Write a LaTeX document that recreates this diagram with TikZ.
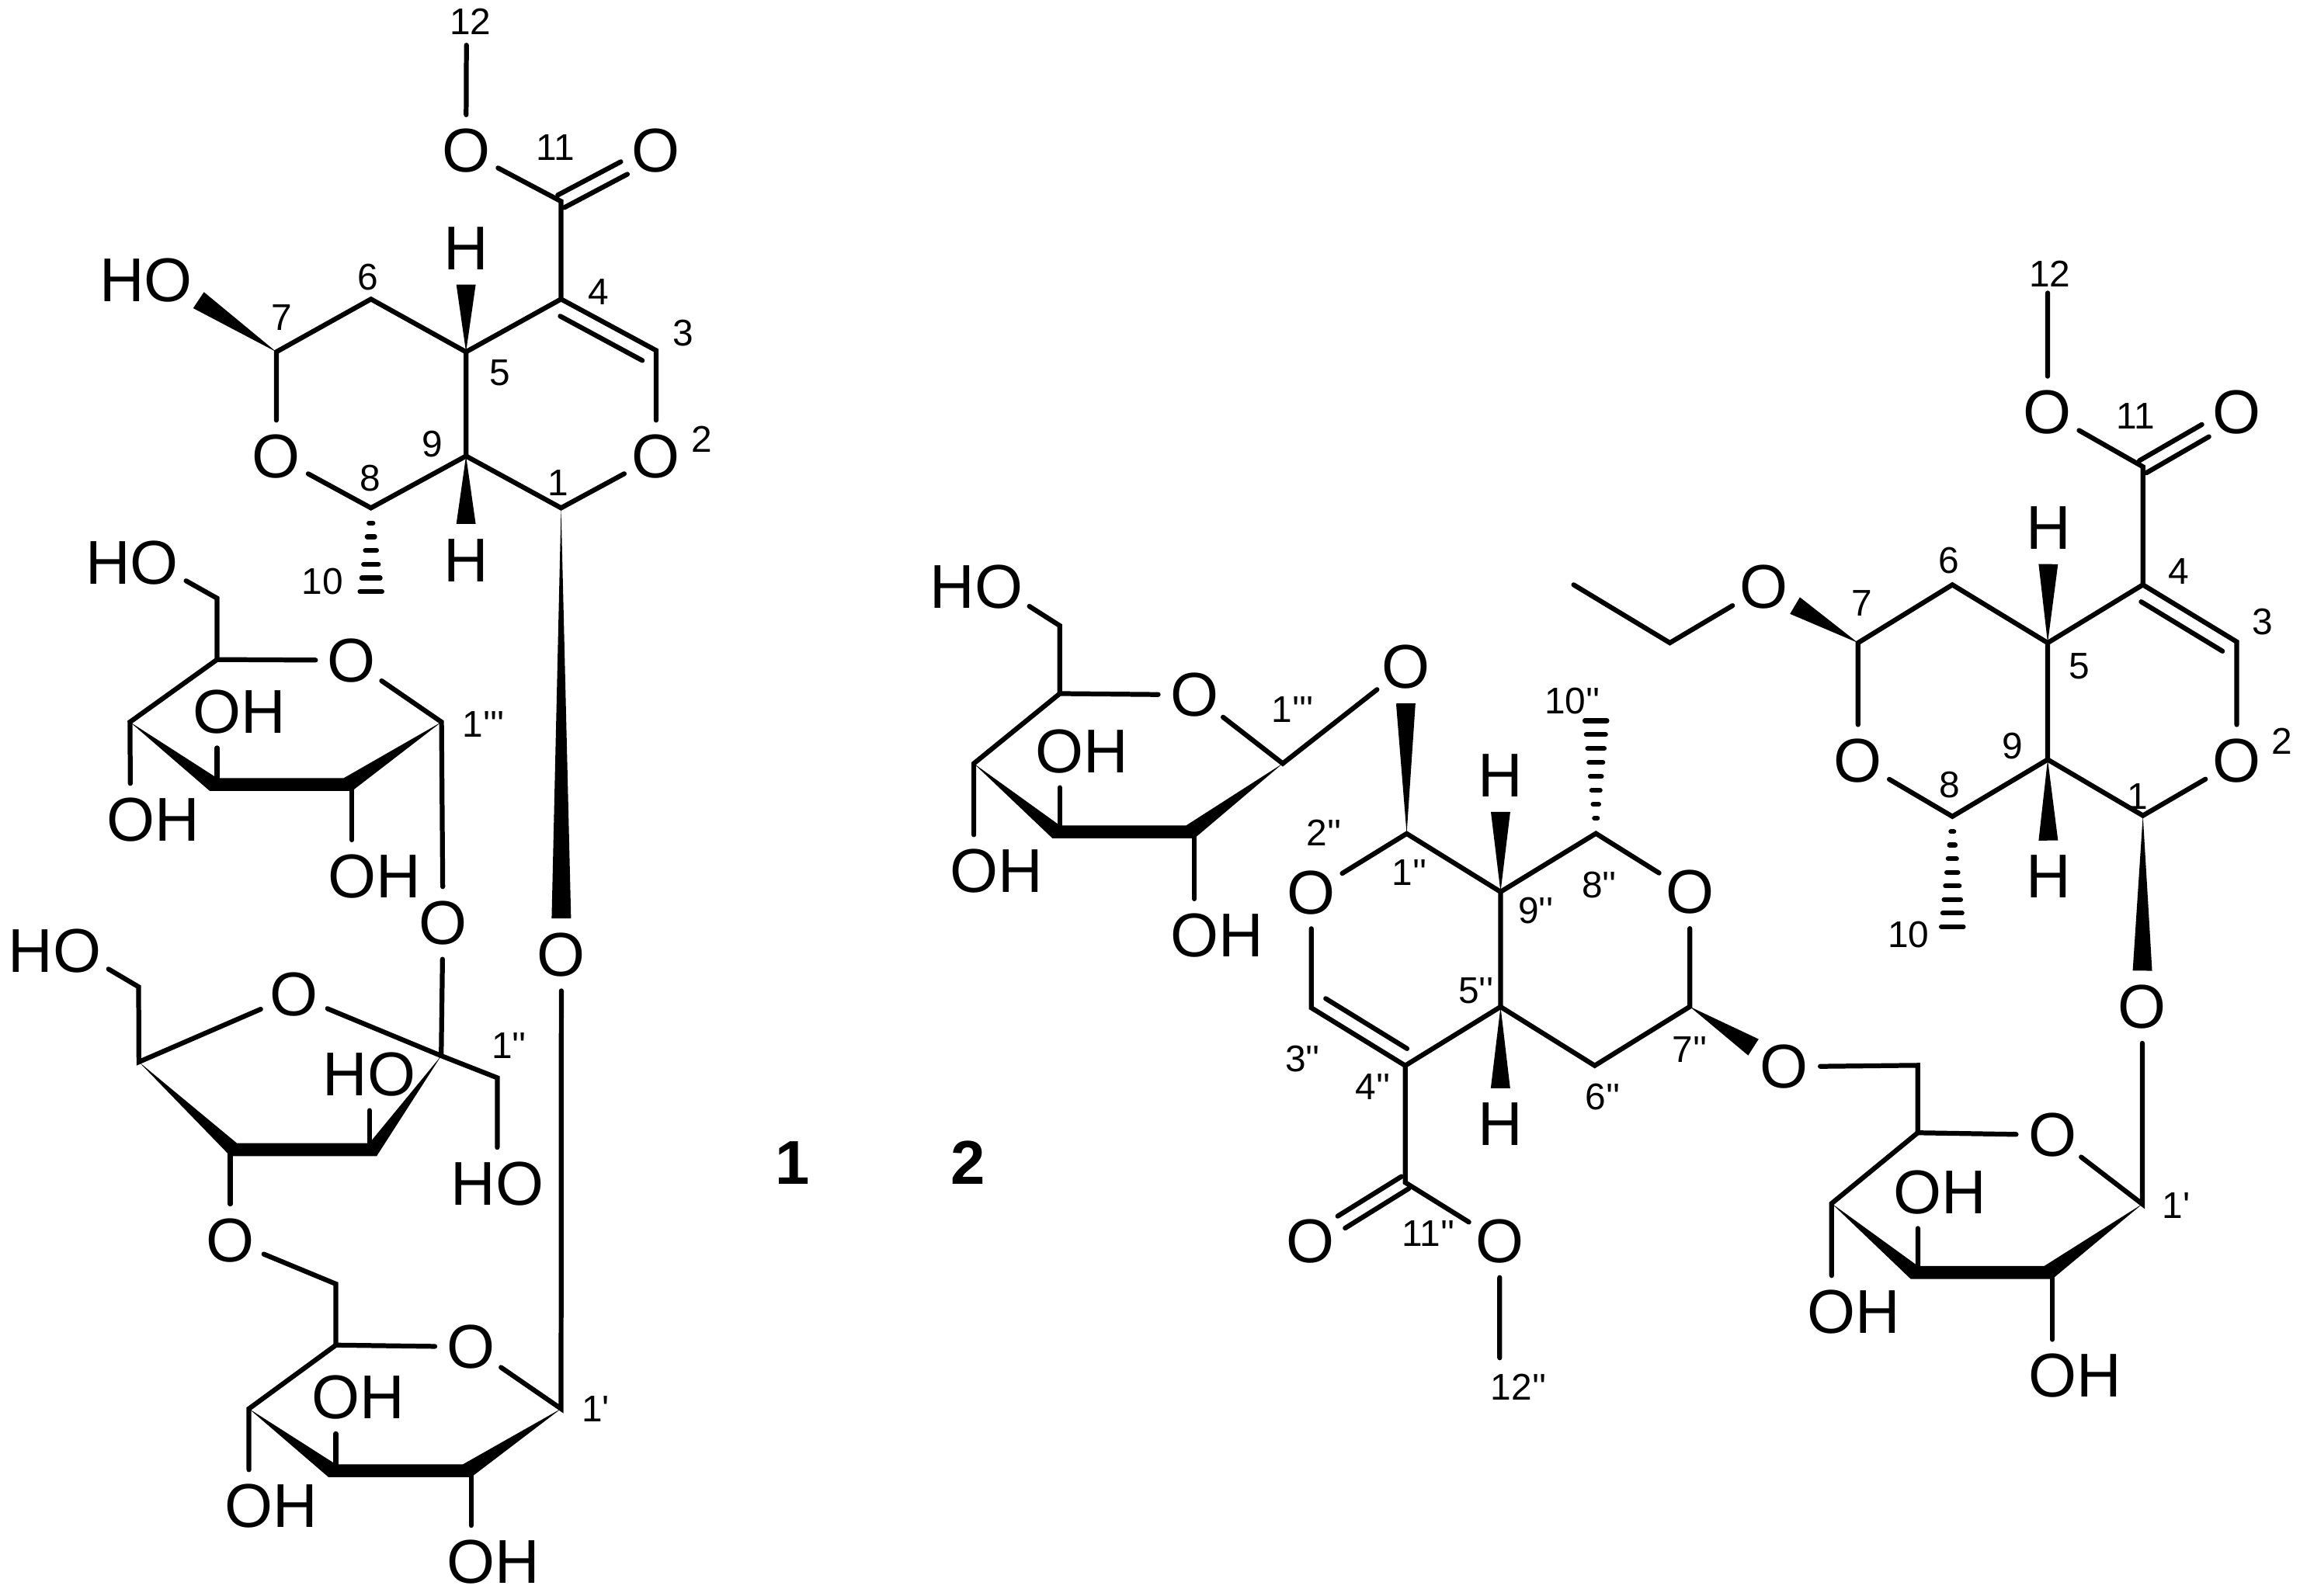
\documentclass[tikz,border=0pt]{standalone}
\usepackage{fontspec}
\newfontfamily\chemfont{Liberation Sans}
\usetikzlibrary{calc}

\newcommand{\wedgebond}[2]{
  \path (#1) -- (#2) coordinate[pos=1] (wtip);
  \fill (#1) -- ($(wtip)!0.66mm!90:(#1)$) -- ($(wtip)!0.66mm!-90:(#1)$) -- cycle;
}
\newcommand{\hashbond}[3]{
  \foreach \i in {0,...,#3}{
    \pgfmathsetmacro\f{1-\i/(#3+1.1)}
    \pgfmathsetmacro\w{0.75*\f}
    \coordinate (hp) at ($(#1)!\f!(#2)$);
    \draw[bond] ($(hp)!\w mm!90:(#1)$) -- ($(hp)!\w mm!-90:(#1)$);
  }
}
\newcommand{\carbonyl}[2]{
  \path (#1) -- (#2) coordinate[pos=1] (wtip);
  \draw[bond] ($(#1)!0.48mm!90:(wtip)$) -- ($(wtip)!0.48mm!-90:(#1)$);
  \draw[bond] ($(#1)!0.48mm!-90:(wtip)$) -- ($(wtip)!0.48mm!90:(#1)$);
}
\newcommand{\innerdouble}[3]{
  \draw[bond, shorten >=0.5mm, shorten <=0.5mm] ($(#1)!1.05mm!#3:(#2)$) -- ($(#2)!1.05mm!-#3:(#1)$);
}
\newcommand{\frontbond}[4]{
  \fill (#1) -- ($(#2)+(0,-4.4)$) -- ($(#3)+(-5.6,-4.4)$) -- (#4) -- ($(#3)+(0,4.4)$) -- ($(#2)+(-5,4.4)$) -- cycle;
}

\begin{document}
\begin{tikzpicture}[x=0.01cm, y=-0.01cm, bond/.style = {line width=0.33mm, line cap=round},
    atom/.style = {circle, inner sep=0pt, minimum size=0.48cm, font=\chemfont\fontsize{12}{14}\selectfont},
    numlabel/.style = {inner sep=0pt, font=\chemfont\fontsize{7.2}{9}\selectfont},
    cpdlabel/.style = {inner sep=0pt, font=\chemfont\fontsize{12}{14}\selectfont\bfseries}]

    \useasboundingbox (0,0) rectangle (1568,1088.4);

    % compound 1, aglycone
    \coordinate (ac12) at (318,30.8); \coordinate (ac11) at (382.5,137.3); \coordinate (ac4) at (382.5,204);
    \coordinate (ac3) at (447.3,239); \coordinate (ac1) at (382.5,346.4); \coordinate (ac9) at (317.7,311);
    \coordinate (ac5) at (317.7,240); \coordinate (ac6) at (252.9,204); \coordinate (ac7) at (188.4,240);
    \coordinate (ac8) at (252.9,346.4); \coordinate (ac10) at (252.9,403.5);
    \node[atom] (aoe) at (317.7,103) {O};
    \node[atom] (aok) at (447.3,103) {O};
    \node[atom] (ao2) at (447.3,311.3) {O};
    \node[atom] (ao7) at (188.4,311.3) {O};
    \node[atom] (aoh7) at (114.8,191) {\llap{H}O};
    \node[atom] (ah5) at (317.7,169.4) {H};
    \node[atom] (ah9) at (317.7,382) {H};
    \draw[bond] (ac12) -- (aoe) -- (ac11) -- (ac4) -- (ac5) -- (ac9) -- (ac1) -- (ao2) -- (ac3) -- (ac4);
    \draw[bond] (ac5) -- (ac6) -- (ac7) -- (ao7) -- (ac8) -- (ac9);
    \carbonyl{ac11}{aok}
    \innerdouble{ac4}{ac3}{-90}
    \wedgebond{ac7}{aoh7}
    \wedgebond{ac5}{ah5}
    \wedgebond{ac9}{ah9}
    \hashbond{ac8}{ac10}{5}

    % compound 1, outer pyranose
    \coordinate (dc6) at (148,408); \coordinate (dc5) at (148,449.8); \coordinate (dc4) at (88.6,492.4);
    \coordinate (dc3) at (148,535); \coordinate (dc2) at (240,535); \coordinate (dc1) at (301,492.4);
    \node[atom] (dor) at (239.8,450.3) {O};
    \node[atom] (dho6) at (105.3,384) {\llap{H}O};
    \node[atom] (doh3) at (148,485.3) {O\rlap{H}};
    \node[atom] (doh4) at (89,559) {O\rlap{H}};
    \node[atom] (doh2) at (240,597.5) {O\rlap{H}};
    \node[atom] (dol) at (302,629.4) {O};
    \draw[bond] (dho6) -- (dc6) -- (dc5) -- (dor) -- (dc1) -- (dol);
    \draw[bond] (dc5) -- (dc4) -- (doh4);
    \draw[bond] (dc3) -- (doh3);
    \draw[bond] (dc2) -- (doh2);
    \frontbond{dc4}{dc3}{dc2}{dc1}

    % compound 1, furanose
    \coordinate (fc6) at (94.5,673); \coordinate (fc5) at (94.7,724.2); \coordinate (fc4) at (157,784);
    \coordinate (fc3) at (251.8,784); \coordinate (fc2) at (300.8,720); \coordinate (fc1) at (339,735);
    \node[atom] (for) at (200.4,678.4) {O};
    \node[atom] (fho6) at (52.7,648.3) {\llap{H}O};
    \node[atom] (fho3) at (251.8,732.6) {\makebox[0pt]{HO}};
    \node[atom] (fho1) at (339,807.2) {\makebox[0pt]{HO}};
    \node[atom] (fol) at (157,845.8) {O};
    \draw[bond] (dol) -- (fc2) -- (fc1) -- (fho1);
    \draw[bond] (fho6) -- (fc6) -- (fc5) -- (for) -- (fc2);
    \draw[bond] (fc3) -- (fho3);
    \draw[bond] (fc4) -- (fol);
    \fill (fc5) -- ($(fc4)+(4.5,-4.4)$) -- ($(fc3)+(0,-4.4)$) -- (fc2) -- ($(fc3)+(5,4.4)$) -- ($(fc4)+(0,4.4)$) -- cycle;

    % compound 1, inner pyranose
    \coordinate (gc6) at (229,875.6); \coordinate (gc5) at (229,917.3); \coordinate (gc4) at (169.7,960.7);
    \coordinate (gc3) at (229,1003); \coordinate (gc2) at (321.2,1003); \coordinate (gc1) at (382.5,960.7);
    \node[atom] (gor) at (321.2,918.5) {O};
    \node[atom] (goh3) at (229,953) {O\rlap{H}};
    \node[atom] (goh4) at (169.7,1027) {O\rlap{H}};
    \node[atom] (goh2) at (321.2,1065) {O\rlap{H}};
    \node[atom] (gog) at (382.7,651) {O};
    \draw[bond] (fol) -- (gc6) -- (gc5) -- (gor) -- (gc1) -- (gog);
    \draw[bond] (gc5) -- (gc4) -- (goh4);
    \draw[bond] (gc3) -- (goh3);
    \draw[bond] (gc2) -- (goh2);
    \frontbond{gc4}{gc3}{gc2}{gc1}
    \wedgebond{ac1}{gog}

    % compound 1, numbering
    \node[numlabel] (al12) at (320.7,14.9) {12};
    \node[numlabel] (al11) at (378.8,100.8) {11};
    \node[numlabel] (al4) at (407.8,198.9) {4};
    \node[numlabel] (al3) at (466,227) {3};
    \node[numlabel] (al5) at (341,254) {5};
    \node[numlabel] (al6) at (251,189) {6};
    \node[numlabel] (al7) at (191.8,216.3) {7};
    \node[numlabel] (al9) at (294.7,302.8) {9};
    \node[numlabel] (al8) at (252.2,325.9) {8};
    \node[numlabel] (al1) at (380.5,329.2) {1};
    \node[numlabel] (al2) at (478.7,299.5) {2};
    \node[numlabel] (al10) at (220,396.6) {10};
    \node[numlabel] (dl1) at (329.5,494) {1'''};
    \node[numlabel] (fl1) at (347,713) {1''};
    \node[numlabel] (gl1) at (406,961) {1'};
    \node[cpdlabel] (cpd1) at (540.3,793) {1};
    \node[cpdlabel] (cpd2) at (660,793) {2};

    % compound 2, right aglycone
    \coordinate (bc12) at (1396,199.8); \coordinate (bc11) at (1460.9,318.3); \coordinate (bc4) at (1460.9,398.8);
    \coordinate (bc3) at (1524.9,437.7); \coordinate (bc1) at (1460.9,556.2); \coordinate (bc9) at (1396,518);
    \coordinate (bc5) at (1396,438.4); \coordinate (bc6) at (1331,398.8); \coordinate (bc7) at (1266.7,438.4);
    \coordinate (bc8) at (1331,556.8); \coordinate (bc10) at (1331,632);
    \coordinate (bet1) at (1138.4,438.4); \coordinate (bet2) at (1072.8,398.8);
    \node[atom] (boe) at (1395.9,281.3) {O};
    \node[atom] (bok) at (1524.9,281.3) {O};
    \node[atom] (bo2) at (1524.9,518.9) {O};
    \node[atom] (bo7) at (1266.7,518.9) {O};
    \node[atom] (boet) at (1202.4,400.4) {O};
    \node[atom] (bh5) at (1396.6,360) {H};
    \node[atom] (bh9) at (1396.6,597.9) {H};
    \draw[bond] (bc12) -- (boe) -- (bc11) -- (bc4) -- (bc5) -- (bc9) -- (bc1) -- (bo2) -- (bc3) -- (bc4);
    \draw[bond] (bc5) -- (bc6) -- (bc7) -- (bo7) -- (bc8) -- (bc9);
    \draw[bond] (bet2) -- (bet1) -- (boet);
    \carbonyl{bc11}{bok}
    \innerdouble{bc4}{bc3}{-90}
    \wedgebond{bc7}{boet}
    \wedgebond{bc5}{bh5}
    \wedgebond{bc9}{bh9}
    \hashbond{bc8}{bc10}{7}

    % compound 2, right pyranose
    \coordinate (pc6) at (1307.4,726.5); \coordinate (pc5) at (1307.4,772.5); \coordinate (pc4) at (1248.7,820.7);
    \coordinate (pc3) at (1307.6,867.8); \coordinate (pc2) at (1399.2,867.8); \coordinate (pc1) at (1460.5,821.1);
    \node[atom] (por) at (1399.2,774) {O};
    \node[atom] (pog) at (1460.5,686.7) {O};
    \node[atom] (pol) at (1216.2,727.5) {O};
    \node[atom] (poh3) at (1307.4,813) {O\rlap{H}};
    \node[atom] (poh4) at (1248.7,894.6) {O\rlap{H}};
    \node[atom] (poh2) at (1399.2,938.2) {O\rlap{H}};
    \draw[bond] (pol) -- (pc6) -- (pc5) -- (por) -- (pc1) -- (pog);
    \draw[bond] (pc5) -- (pc4) -- (poh4);
    \draw[bond] (pc3) -- (poh3);
    \draw[bond] (pc2) -- (poh2);
    \frontbond{pc4}{pc3}{pc2}{pc1}
    \wedgebond{bc1}{pog}

    % compound 2, left aglycone
    \coordinate (cc1) at (959,568.5); \coordinate (cc3) at (894,687.3); \coordinate (cc4) at (958,726.7);
    \coordinate (cc5) at (1023,686.6); \coordinate (cc6) at (1087.2,726.7); \coordinate (cc7) at (1152,686.5);
    \coordinate (cc8) at (1088,568.4); \coordinate (cc9) at (1023,608.2); \coordinate (cc10) at (1088,491.5);
    \coordinate (cc11) at (958,806.4); \coordinate (cc12) at (1022.4,926);
    \node[atom] (co2) at (894,608.6) {O};
    \node[atom] (co7) at (1152,608.5) {O};
    \node[atom] (cok) at (893.5,846.5) {O};
    \node[atom] (coe) at (1022.4,846.5) {O};
    \node[atom] (ch9) at (1023,529) {H};
    \node[atom] (ch5) at (1022.9,766.8) {H};
    \draw[bond] (cc12) -- (coe) -- (cc11) -- (cc4) -- (cc5) -- (cc9) -- (cc1) -- (co2) -- (cc3) -- (cc4);
    \draw[bond] (cc5) -- (cc6) -- (cc7) -- (co7) -- (cc8) -- (cc9);
    \carbonyl{cc11}{cok}
    \innerdouble{cc3}{cc4}{90}
    \wedgebond{cc7}{pol}
    \wedgebond{cc9}{ch9}
    \wedgebond{cc5}{ch5}
    \hashbond{cc8}{cc10}{7}

    % compound 2, left pyranose
    \coordinate (qc6) at (722.5,426.7); \coordinate (qc5) at (722.5,473); \coordinate (qc4) at (663.9,520.7);
    \coordinate (qc3) at (722.5,567.3); \coordinate (qc2) at (814.3,567.3); \coordinate (qc1) at (874.5,520.7);
    \node[atom] (qor) at (814.3,473.9) {O};
    \node[atom] (qog) at (958.2,455) {O};
    \node[atom] (qho6) at (680.9,400.2) {\llap{H}O};
    \node[atom] (qoh3) at (722.5,512.4) {O\rlap{H}};
    \node[atom] (qoh4) at (663.9,594) {O\rlap{H}};
    \node[atom] (qoh2) at (814.3,637.7) {O\rlap{H}};
    \draw[bond] (qho6) -- (qc6) -- (qc5) -- (qor) -- (qc1) -- (qog);
    \draw[bond] (qc5) -- (qc4) -- (qoh4);
    \draw[bond] (qc3) -- (qoh3);
    \draw[bond] (qc2) -- (qoh2);
    \frontbond{qc4}{qc3}{qc2}{qc1}
    \wedgebond{cc1}{qog}

    % compound 2, numbering
    \node[numlabel] (bl12) at (1397.5,187) {12};
    \node[numlabel] (bl11) at (1455.7,284) {11};
    \node[numlabel] (bl4) at (1485.2,389.7) {4};
    \node[numlabel] (bl3) at (1542.7,423.8) {3};
    \node[numlabel] (bl5) at (1417.7,454.2) {5};
    \node[numlabel] (bl6) at (1328.4,382) {6};
    \node[numlabel] (bl7) at (1269.3,411.6) {7};
    \node[numlabel] (bl9) at (1372.2,508.8) {9};
    \node[numlabel] (bl8) at (1329.3,535) {8};
    \node[numlabel] (bl1) at (1457.3,543.2) {1};
    \node[numlabel] (bl2) at (1555.7,505.2) {2};
    \node[numlabel] (bl10) at (1301,637.5) {10};
    \node[numlabel] (pl1) at (1483.6,822) {1'};
    \node[numlabel] (ql1) at (881.2,484) {1'''};
    \node[numlabel] (cl2) at (902.8,568) {2''};
    \node[numlabel] (cl1) at (960.9,595.2) {1''};
    \node[numlabel] (cl9) at (1047,621) {9''};
    \node[numlabel] (cl8) at (1090.3,603.3) {8''};
    \node[numlabel] (cl10) at (1072,478) {10''};
    \node[numlabel] (cl5) at (1006.2,675.9) {5''};
    \node[numlabel] (cl3) at (888,722.2) {3''};
    \node[numlabel] (cl4) at (936,741.1) {4''};
    \node[numlabel] (cl6) at (1092.6,747.8) {6''};
    \node[numlabel] (cl7) at (1152,716) {7''};
    \node[numlabel] (cl11) at (973.8,841.4) {11''};
    \node[numlabel] (cl12) at (1035.3,946.1) {12''};

\end{tikzpicture}
\end{document}
